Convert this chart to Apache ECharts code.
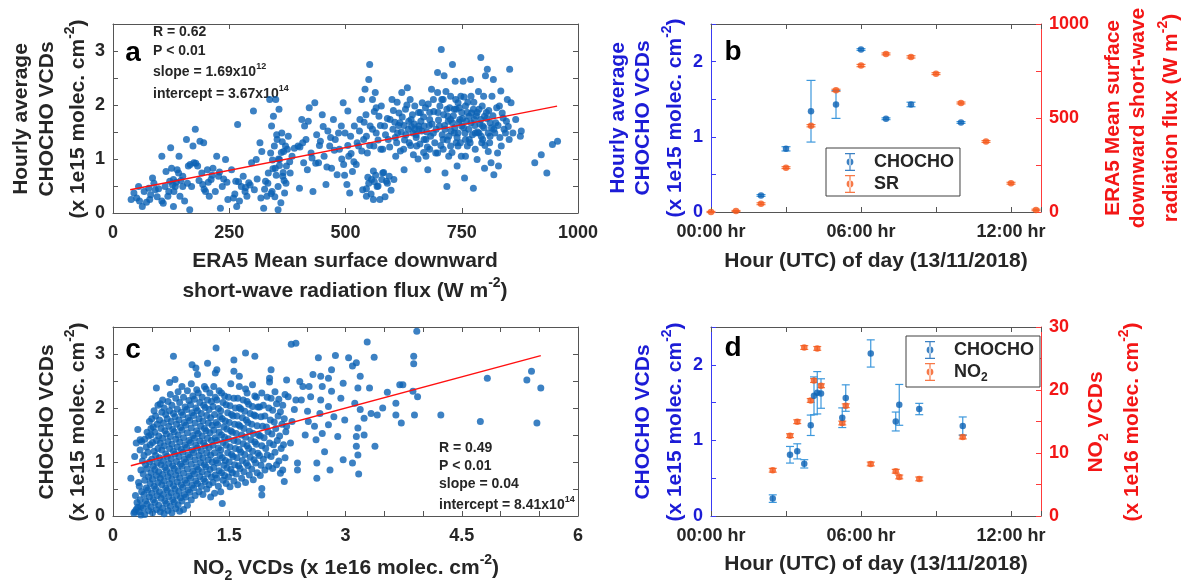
<!DOCTYPE html>
<html><head><meta charset="utf-8">
<script src="https://cdn.jsdelivr.net/npm/echarts@6.0.0/dist/echarts.min.js"></script>
<style>html,body{margin:0;padding:0;background:#fff}#c{width:1181px;height:585px}</style>
</head><body><div id="c"></div>
<script>
// ---------------- DATA ----------------
// Panel a: [shortwave flux W m-2, CHOCHO VCD x1e15]
const scatterA = [
[39,0.25],[45,0.37],[55,0.49],[51,0.28],[63,0.12],[57,0.22],[77,0.46],[81,0.34],[85,0.65],[79,0.25],[91,0.43],[105,1.05],[105,0.22],[112,0.49],[118,0.31],[124,1.21],[126,0.83],[130,0.62],[130,0.12],[134,0.49],[138,0.80],[131,0.40],[142,1.05],[144,0.31],[150,0.68],[154,0.22],[158,1.36],[162,0.87],[165,0.06],[169,0.49],[172,1.24],[177,1.55],[174,0.93],[182,0.87],[187,1.33],[191,0.74],[193,0.53],[195,1.30],[199,0.40],[203,0.80],[207,0.31],[211,0.62],[215,0.83],[223,1.05],[227,0.68],[231,0.09],[235,0.49],[242,0.99],[247,0.25],
[122,0.59],[136,0.57],[141,0.74],[114,0.77],[150,0.49],[98,0.45],[108,0.18],[120,0.40],[128,0.52],[146,0.60],[160,0.55],[166,0.90],[178,0.92],[185,0.60],[196,0.44],[205,0.57],[213,0.70],[220,0.40],[229,0.76],[238,0.63],[245,0.57],[67,0.40],[72,0.20],[88,0.55],[95,0.30],
[255,0.80],[259,0.28],[264,0.59],[268,1.64],[266,0.12],[272,0.22],[276,0.49],[280,0.68],[284,0.40],[288,0.31],[292,0.56],[298,0.93],[302,1.89],[304,0.43],[308,0.99],[316,1.30],[320,1.14],[324,0.09],[328,0.59],[331,0.31],[334,0.74],[337,2.10],[339,1.11],[341,1.61],[342,0.40],[345,1.79],[347,1.24],[349,0.83],[350,2.10],[353,1.36],[355,0.49],[355,0.06],[357,1.92],[358,0.99],[361,0.19],[363,1.48],[365,0.68],[367,1.14],[369,0.37],[371,1.24],[373,0.87],[377,1.42],[381,0.74],[385,1.05],[398,1.24],[401,0.46],[406,1.73],[410,0.93],[412,1.61],[415,1.36],[418,0.80],[422,1.95],[426,1.11],[430,0.40],[434,2.04],[438,1.45],[442,0.93],[446,1.33],[450,1.82],[454,1.05],[458,0.53],[462,1.52],[466,1.24],[470,0.83],[474,1.73],[478,1.36],[482,0.71],[487,1.18],[491,1.61],[495,2.04],[496,0.90],[499,1.48],
[262,0.35],[270,0.58],[285,0.47],[295,0.52],[310,0.63],[318,0.28],[326,0.44],[333,0.55],[343,0.98],[351,0.70],[358,0.88],[362,1.12],[368,0.60],[375,1.18],[380,0.95],[390,1.20],[402,1.22],[408,1.30],[420,1.70],[428,1.02],[436,0.92],[444,1.25],[452,1.60],[460,0.85],[468,1.40],[476,1.16],[485,1.48],[492,1.00],[498,0.70],[344,0.82],[352,1.45],[364,1.32],[372,0.55],[348,0.30],[340,0.36],[356,1.00],[366,0.75],
[503,0.53],[505,1.89],[507,1.05],[509,0.37],[511,1.42],[515,0.77],[519,1.61],[523,0.90],[528,1.24],[531,1.73],[535,2.10],[537,0.43],[539,1.36],[542,2.29],[544,1.82],[545,0.31],[547,1.11],[550,2.47],[552,2.75],[553,1.61],[556,0.62],[558,2.10],[560,0.25],[561,1.24],[564,2.23],[566,1.48],[568,0.49],[572,1.79],[574,0.25],[576,1.18],[577,1.98],[580,0.74],[584,1.61],[588,0.59],[592,1.36],[596,1.73],[600,2.10],[604,0.62],[608,1.05],[612,1.48],[617,1.67],[621,2.23],[625,1.18],[626,0.80],[629,1.92],[633,2.32],[637,1.30],[639,2.10],[641,1.73],[645,1.48],[649,1.98],[653,1.24],[657,1.61],[661,1.86],[665,2.04],[669,1.36],[673,1.05],[677,0.80],[681,1.73],[685,2.29],[689,2.10],[694,1.11],[698,2.60],[699,1.86],[702,1.61],[706,3.03],[707,2.10],[710,1.36],[712,2.54],[714,0.74],[718,0.49],[720,1.79],[722,1.05],[726,2.16],[730,2.75],[734,1.48],[736,2.44],[738,1.92],[740,0.87],[742,1.24],[746,1.73],[748,2.16],
[545,0.45],[550,0.55],[555,0.35],[562,0.58],[565,0.70],[570,0.50],[578,0.62],[582,0.75],[590,0.55],[594,0.68],[598,0.42],[560,0.78],[548,0.66],[585,0.30],
[505,1.25],[512,1.10],[518,0.95],[525,1.30],[530,1.52],[535,1.15],[540,1.68],[545,1.42],[552,1.25],[558,1.55],[562,1.88],[566,1.95],[570,1.35],[575,1.62],[580,1.18],[586,1.45],[590,1.75],[595,1.22],[602,1.55],[606,1.68],[610,1.30],[615,1.85],[620,1.50],[626,1.62],[630,1.45],[636,1.70],[642,1.60],[646,1.08],[652,1.45],[658,1.55],[662,1.70],[668,1.12],[675,1.50],[680,1.62],
[753,2.44],[754,1.58],[756,0.65],[758,1.05],[762,1.86],[766,1.36],[769,2.47],[770,2.16],[775,0.46],[777,1.73],[779,1.48],[783,0.99],[787,1.92],[791,2.88],[793,1.30],[795,1.61],[797,2.16],[799,0.83],[801,2.54],[803,1.86],[805,2.66],[807,1.14],[811,1.42],[813,0.93],[815,2.16],[818,2.47],[819,0.71],[823,1.67],[827,1.11],[829,0.87],[831,1.98],[834,2.26],[835,1.24],[839,1.76],[844,1.48],[848,2.10],[852,1.36],[853,2.66],[856,2.04],[860,1.48],[866,1.73],[876,1.42],[878,1.52],[907,0.93],[921,1.08],[933,0.74],[945,1.27],[956,1.33],
[681,1.86],[698,2.23],[710,2.10],[718,1.92],[726,1.73],[734,1.92],[742,2.04],[750,1.86],[758,1.98],[766,1.79],[775,1.92],[783,1.86],[791,1.73],[799,1.79],[807,1.48],[758,1.36],[742,1.48],[726,1.24],[710,1.18],[698,1.11],[681,1.18],[669,1.61],[657,1.86],[649,1.55],[714,1.55],[730,1.67],[750,1.61],[770,1.67],[787,1.48],[795,1.36],[811,1.67],[819,1.55],[762,1.24],[779,1.18],[722,1.42],[738,1.30],[689,1.48],[673,1.36],
[652,1.40],[656,1.00],[660,1.28],[664,1.52],[668,1.78],[672,1.95],[676,1.22],[678,2.02],[683,1.42],[686,1.65],[690,1.88],[692,1.30],[695,1.55],[700,1.72],[703,1.98],[705,1.25],[708,1.45],[711,1.82],[713,1.62],[716,2.25],[719,1.35],[721,1.70],[724,1.95],[727,1.52],[729,1.12],[732,1.80],[735,1.58],[737,2.10],[740,1.40],[744,1.68],[745,1.95],[747,1.30],[749,1.05],[752,1.75],[755,2.15],[757,1.48],[760,1.70],[763,2.05],[765,1.55],[768,1.30],[771,1.85],[773,1.45],[776,2.05],[778,1.62],[781,1.80],[784,1.50],[786,2.25],[789,1.65],[792,1.42],[794,1.98],[798,1.58],[800,1.25],[804,1.75],[808,1.90],[810,1.30],[814,1.58],[817,1.80],[821,1.48],[825,1.95],[828,1.62],[832,1.40],[837,1.85],[841,1.55],[846,1.70],[850,1.60],
[603,1.90],[607,1.40],[611,2.05],[614,1.62],[618,1.15],[622,1.78],[627,1.35],[632,2.00],[635,1.55],[640,1.25],[644,1.82],[648,1.65]
];
const fitLineA = [[37,0.43],[955,1.98]];

// Panel c: [NO2 VCD x1e16, CHOCHO VCD x1e15]
const scatterC = [
[0.23,0.70],[0.28,1.10],[0.32,1.60],[0.35,1.41],[0.28,0.08],[0.27,0.05],
[0.30,0.12],[0.31,0.25],[0.29,0.38],[0.33,0.62],[0.30,1.35],[0.32,0.16],
[0.34,0.08],[0.36,0.18],[0.35,0.30],[0.37,0.45],[0.34,0.55],[0.36,0.85],[0.38,1.02],[0.35,1.22],[0.37,1.38],[0.36,0.02],
[0.41,0.03],[0.39,0.15],[0.42,0.28],[0.40,0.40],[0.43,0.52],[0.41,0.66],[0.39,0.78],[0.42,0.95],[0.40,1.12],[0.43,1.28],[0.41,1.42],[0.44,1.55],
[0.46,0.10],[0.44,0.22],[0.47,0.35],[0.45,0.48],[0.48,0.60],[0.46,0.72],[0.44,0.88],[0.47,1.00],[0.45,1.18],[0.48,1.32],[0.46,1.48],[0.49,1.62],[0.47,1.75],
[0.51,0.06],[0.49,0.17],[0.52,0.30],[0.50,0.42],[0.53,0.55],[0.51,0.68],[0.49,0.80],[0.52,0.92],[0.50,1.05],[0.53,1.20],[0.51,1.36],[0.49,1.50],[0.52,1.65],[0.50,1.80],[0.53,1.95],
[0.56,0.12],[0.54,0.25],[0.57,0.38],[0.55,0.50],[0.58,0.62],[0.56,0.75],[0.54,0.86],[0.57,0.98],[0.55,1.12],[0.58,1.25],[0.56,1.40],[0.54,1.55],[0.57,1.70],[0.55,1.85],[0.58,2.05],[0.56,2.37],
[0.61,0.08],[0.59,0.20],[0.62,0.33],[0.60,0.45],[0.63,0.58],[0.61,0.70],[0.59,0.82],[0.62,0.95],[0.60,1.08],[0.63,1.22],[0.61,1.35],[0.59,1.48],[0.62,1.62],[0.60,1.78],[0.63,1.92],[0.61,2.08],
[0.66,0.04],[0.64,0.15],[0.67,0.28],[0.65,0.40],[0.68,0.52],[0.66,0.65],[0.64,0.77],[0.67,0.90],[0.65,1.02],[0.68,1.15],[0.66,1.30],[0.64,1.44],[0.67,1.58],[0.65,1.72],[0.68,1.88],[0.66,2.00],[0.64,2.15],
[0.71,0.10],[0.69,0.23],[0.72,0.36],[0.70,0.48],[0.73,0.60],[0.71,0.73],[0.69,0.85],[0.72,0.97],[0.70,1.10],[0.73,1.25],[0.71,1.38],[0.69,1.52],[0.72,1.66],[0.70,1.80],[0.73,1.95],[0.71,2.12],[0.73,2.47],
[0.76,0.06],[0.74,0.18],[0.77,0.30],[0.75,0.43],[0.78,0.56],[0.76,0.68],[0.74,0.80],[0.77,0.93],[0.75,1.06],[0.78,1.20],[0.76,1.33],[0.74,1.47],[0.77,1.60],[0.75,1.75],[0.78,1.90],[0.76,2.05],[0.74,2.25],[0.78,2.96],
[0.81,0.14],[0.79,0.26],[0.82,0.38],[0.80,0.50],[0.83,0.63],[0.81,0.76],[0.79,0.88],[0.82,1.01],[0.80,1.15],[0.83,1.28],[0.81,1.42],[0.79,1.56],[0.82,1.70],[0.80,1.84],[0.83,1.98],[0.81,2.18],[0.80,2.53],
[0.86,0.09],[0.84,0.21],[0.87,0.34],[0.85,0.46],[0.88,0.58],[0.86,0.71],[0.84,0.84],[0.87,0.96],[0.85,1.10],[0.88,1.23],[0.86,1.37],[0.84,1.50],[0.87,1.64],[0.85,1.78],[0.88,1.92],[0.86,2.10],[0.84,2.30],
[0.91,0.12],[0.89,0.28],[0.92,0.40],[0.90,0.53],[0.93,0.66],[0.91,0.79],[0.89,0.92],[0.92,1.05],[0.90,1.18],[0.93,1.32],[0.91,1.45],[0.89,1.59],[0.92,1.73],[0.90,1.87],[0.93,2.02],[0.91,2.20],[0.89,2.40],
[0.96,0.20],[0.94,0.35],[0.97,0.48],[0.95,0.61],[0.98,0.74],[0.96,0.87],[0.94,1.00],[0.97,1.13],[0.95,1.27],[0.98,1.40],[0.96,1.54],[0.94,1.68],[0.97,1.82],[0.95,1.97],[0.98,2.14],[0.96,2.32],
[1.01,0.30],[0.99,0.44],[1.02,0.57],[1.00,0.70],[1.03,0.83],[1.01,0.96],[0.99,1.09],[1.02,1.22],[1.00,1.36],[1.03,1.49],[1.01,1.63],[0.99,1.77],[1.02,1.91],[1.00,2.06],[1.03,2.22],[1.01,2.45],[1.02,2.80],
[1.06,0.38],[1.04,0.52],[1.07,0.65],[1.05,0.78],[1.08,0.91],[1.06,1.04],[1.04,1.17],[1.07,1.31],[1.05,1.44],[1.08,1.58],[1.06,1.72],[1.04,1.86],[1.07,2.00],[1.05,2.16],[1.08,2.34],[1.07,2.74],
[1.11,0.45],[1.09,0.60],[1.12,0.73],[1.10,0.86],[1.13,0.99],[1.11,1.12],[1.09,1.26],[1.12,1.39],[1.10,1.53],[1.13,1.66],[1.11,1.80],[1.09,1.95],[1.12,2.10],[1.10,2.28],[1.09,2.62],
[1.16,0.40],[1.14,0.55],[1.17,0.68],[1.15,0.82],[1.18,0.95],[1.16,1.08],[1.14,1.21],[1.17,1.35],[1.15,1.48],[1.18,1.62],[1.16,1.76],[1.14,1.90],[1.17,2.05],[1.15,2.20],[1.18,2.40],
[1.21,0.50],[1.19,0.64],[1.22,0.78],[1.20,0.91],[1.23,1.04],[1.21,1.17],[1.19,1.30],[1.22,1.44],[1.20,1.58],[1.23,1.72],[1.21,1.86],[1.19,2.01],[1.22,2.15],[1.20,2.35],[1.22,2.83],
[1.26,0.35],[1.24,0.58],[1.27,0.72],[1.25,0.86],[1.28,1.00],[1.26,1.13],[1.24,1.27],[1.27,1.40],[1.25,1.54],[1.28,1.68],[1.26,1.82],[1.24,1.97],[1.27,2.12],[1.25,2.28],
[1.31,0.42],[1.29,0.62],[1.32,0.76],[1.30,0.90],[1.33,1.03],[1.31,1.17],[1.29,1.31],[1.32,1.45],[1.30,1.59],[1.33,1.73],[1.31,1.88],[1.29,2.03],[1.32,2.20],[1.30,2.40],[1.32,2.65],[1.33,3.11],
[1.36,0.55],[1.34,0.70],[1.37,0.84],[1.35,0.98],[1.38,1.12],[1.36,1.26],[1.34,1.40],[1.37,1.55],[1.35,1.69],[1.38,1.84],[1.36,1.99],[1.34,2.15],[1.37,2.32],[1.34,2.71],
[1.41,0.23],[1.39,0.45],[1.42,0.66],[1.40,0.80],[1.43,0.94],[1.41,1.08],[1.39,1.22],[1.42,1.36],[1.40,1.50],[1.43,1.65],[1.41,1.80],[1.39,1.95],[1.42,2.10],[1.40,2.28],
[1.46,0.60],[1.44,0.75],[1.47,0.89],[1.45,1.03],[1.48,1.17],[1.46,1.31],[1.44,1.46],[1.47,1.61],[1.45,1.76],[1.48,1.91],[1.46,2.06],[1.44,2.22],
[1.51,0.54],[1.49,0.72],[1.52,0.86],[1.50,1.00],[1.53,1.14],[1.51,1.28],[1.49,1.43],[1.52,1.58],[1.50,1.73],[1.53,1.88],[1.51,2.04],[1.49,2.20],[1.52,2.45],
[1.56,0.65],[1.54,0.80],[1.57,0.95],[1.55,1.10],[1.58,1.25],[1.56,1.40],[1.54,1.55],[1.57,1.70],[1.55,1.85],[1.58,2.00],[1.56,2.18],[1.56,2.68],[1.56,2.89],
[1.61,0.58],[1.59,0.78],[1.62,0.93],[1.60,1.08],[1.63,1.23],[1.61,1.38],[1.59,1.53],[1.62,1.69],[1.60,1.85],[1.63,2.01],[1.61,2.18],[1.63,2.40],
[1.66,0.70],[1.64,0.88],[1.67,1.03],[1.65,1.18],[1.68,1.34],[1.66,1.50],[1.64,1.66],[1.67,1.82],[1.65,1.98],[1.68,2.15],[1.63,2.59],
[1.71,0.62],[1.69,0.82],[1.72,0.98],[1.70,1.14],[1.73,1.30],[1.71,1.46],[1.69,1.62],[1.72,1.78],[1.70,1.94],[1.73,2.12],[1.71,2.35],[1.71,3.02],
[1.76,0.76],[1.74,0.93],[1.77,1.09],[1.75,1.25],[1.78,1.41],[1.76,1.57],[1.74,1.73],[1.77,1.90],[1.75,2.07],[1.73,2.28],
[1.81,0.67],[1.79,0.87],[1.82,1.04],[1.80,1.20],[1.83,1.37],[1.81,1.53],[1.79,1.70],[1.82,1.87],[1.80,2.03],[1.83,2.22],[1.80,2.43],
[1.86,0.80],[1.84,0.98],[1.87,1.16],[1.85,1.33],[1.88,1.50],[1.86,1.67],[1.84,1.85],[1.87,2.02],[1.85,2.20],[1.83,2.96],
[1.92,0.39],[1.92,0.51],[1.90,0.75],[1.91,0.94],[1.89,1.12],[1.92,1.30],[1.90,1.48],[1.93,1.66],[1.91,1.84],[1.89,2.02],[1.92,2.28],
[1.96,0.85],[1.94,1.05],[1.97,1.25],[1.95,1.45],[1.98,1.65],[1.96,1.85],[1.94,2.05],
[2.01,0.92],[1.99,1.13],[2.02,1.35],[2.00,1.56],[2.03,1.78],[2.01,2.00],[1.99,2.20],[2.02,2.48],[2.04,2.71],
[2.06,0.88],[2.04,1.10],[2.07,1.32],[2.05,1.52],[2.08,1.74],[2.06,1.96],[2.04,2.18],[2.02,2.55],
[2.11,0.95],[2.09,1.18],[2.12,1.40],[2.10,1.62],[2.13,1.85],[2.11,2.08],[2.09,2.30],
[2.16,0.79],[2.14,1.02],[2.17,1.25],[2.15,1.48],[2.18,1.70],[2.16,1.93],[2.14,2.16],
[2.21,0.64],[2.19,0.85],[2.22,1.08],[2.20,1.32],[2.23,1.56],[2.21,1.80],[2.19,2.05],[2.22,2.25],
[2.24,2.52],[2.24,1.66],[2.26,2.21],[2.29,1.35],[2.30,3.18],[2.31,1.75],[2.34,1.97],[2.36,3.20],[2.36,2.15],[2.38,0.98],[2.38,0.85],[2.41,2.49],[2.43,2.15],[2.45,2.40],[2.48,1.50],[2.51,1.94],[2.52,1.75],[2.53,2.40],[2.55,2.21],[2.58,2.62],[2.60,1.66],[2.62,1.41],[2.63,0.98],[2.63,0.70],[2.65,2.93],[2.67,1.90],[2.68,2.15],[2.68,2.59],[2.70,2.40],[2.70,1.53],[2.73,1.19],[2.78,2.55],[2.78,2.03],[2.78,1.69],[2.80,0.85],[2.82,2.71],[2.82,2.31],[2.85,1.84],[2.87,2.97],[2.90,1.47],[2.94,2.18],[2.97,2.46],[2.97,1.04],[2.99,1.78],
[3.04,2.93],[3.09,2.78],[3.09,0.98],[3.12,2.09],[3.14,2.84],[3.14,1.47],[3.14,1.29],[3.16,2.37],[3.16,1.63],[3.16,1.13],[3.17,0.78],[3.19,2.59],[3.19,1.97],[3.24,1.81],[3.24,1.50],[3.28,3.22],[3.31,2.37],[3.33,1.90],[3.37,2.94],[3.38,1.29],[3.41,1.87],[3.48,2.00],[3.54,2.29],[3.65,2.09],[3.65,1.87],[3.70,2.43],[3.72,1.72],[3.74,2.43],[3.87,2.31],[3.88,2.96],[3.88,2.82],[3.89,1.87],[3.92,3.42],[3.93,2.21],
[4.23,1.87],[4.74,1.75],[4.83,2.55],[5.34,2.52],[5.40,2.68],[5.47,1.72],[5.52,2.37]
];
const fitLineC = [[0.23,0.93],[5.52,2.97]];

// Panel b: hourly (hours UTC)
const srHours = [0,1,2,3,4,5,6,7,8,9,10,11,12,13];
const srValues = [0,5,44,236,459,647,779,841,825,736,580,375,153,11];
const srErr = [3,3,5,5,6,6,6,5,6,5,5,5,5,4];
const chochoHoursB = [2,3,4,5,6,7,8,10];
const chochoB = [0.22,0.84,1.34,1.43,2.16,1.24,1.43,1.19];
const chochoErrB = [0.012,0.028,0.41,0.185,0.012,0.012,0.03,0.012];

// Panel d: individual measurements (hours UTC)
const hoursD = [2.47,3.16,3.45,3.73,3.99,4.12,4.25,4.40,5.25,5.39,6.39,7.39,7.53,8.33,10.07];
const chochoD = [0.23,0.81,0.855,0.69,1.20,1.59,1.63,1.62,1.30,1.56,2.15,1.25,1.47,1.415,1.19];
const chochoErrD = [0.05,0.11,0.10,0.055,0.135,0.25,0.28,0.195,0.13,0.175,0.18,0.125,0.27,0.075,0.12];
const no2D = [7.26,12.75,14.97,26.74,18.34,21.5,26.6,20.67,14.76,17.5,8.26,7.1,6.2,5.89,12.54];
const no2ErrD = [0.3,0.3,0.3,0.3,0.3,0.3,0.3,0.3,0.3,0.3,0.3,0.3,0.3,0.3,0.3];

// tick labels
const hourTickLabels = {0:'00:00 hr', 6:'06:00 hr', 12:'12:00 hr'};
const noxTickLabels = [0, 1.5, 3, 4.5, 6];

// ---------------- STYLE ----------------
const FONT = "'Liberation Sans', Arial, Helvetica, sans-serif";
const INK = '#262626', BOX = '#555555';
const BLUE_AX = '#3a3af5', RED_AX = '#ff3a3a', BLUE_TXT = '#1c1cd6', RED_TXT = '#f31616';
const DOT = '#0b62b4', DOT_ERR = '#3d98dc', OR = '#f5571a', OR_ERR = '#f47a45';

const fmtInt = v => Math.abs(v - Math.round(v)) < 1e-9 ? String(Math.round(v)) : '';
const fmtHr = v => hourTickLabels[v] !== undefined ? hourTickLabels[v] : '';
const fmtNox = v => noxTickLabels.some(t => Math.abs(t - v) < 1e-9) ? String(v) : '';

function X(grid, pos, min, max, interval, fmt) {
  return {
    type: 'value', gridIndex: grid, position: pos, min, max, interval,
    splitLine: {show: false},
    axisLine: {show: true, onZero: false, lineStyle: {color: BOX, width: 1}},
    axisTick: {show: true, inside: true, length: 5, lineStyle: {color: BOX}},
    axisLabel: fmt ? {show: true, formatter: fmt, color: INK, fontSize: 18, fontWeight: 'bold', fontFamily: FONT, margin: 11, showMaxLabel: true, showMinLabel: true, hideOverlap: false} : {show: false}
  };
}
function Y(grid, pos, min, max, interval, fmt, txt, ax) {
  return {
    type: 'value', gridIndex: grid, position: pos, min, max, interval,
    splitLine: {show: false},
    axisLine: {show: true, onZero: false, lineStyle: {color: ax, width: 1}},
    axisTick: {show: true, inside: true, length: 5, lineStyle: {color: ax}},
    axisLabel: fmt ? {show: true, formatter: fmt, color: txt, fontSize: 18, fontWeight: 'bold', fontFamily: FONT, margin: 8} : {show: false}
  };
}

function errRender(capHalf) {
  return function (params, api) {
    const x = api.value(0), lo = api.value(1), hi = api.value(2);
    const p1 = api.coord([x, hi]), p2 = api.coord([x, lo]);
    const st = {stroke: api.visual('color'), lineWidth: 1.2, fill: null};
    return {type: 'group', children: [
      {type: 'line', shape: {x1: p1[0], y1: p1[1], x2: p2[0], y2: p2[1]}, style: st},
      {type: 'line', shape: {x1: p1[0] - capHalf, y1: p1[1], x2: p1[0] + capHalf, y2: p1[1]}, style: st},
      {type: 'line', shape: {x1: p2[0] - capHalf, y1: p2[1], x2: p2[0] + capHalf, y2: p2[1]}, style: st}
    ]};
  };
}
const errData = (xs, vs, es) => xs.map((x, i) => [x, vs[i] - es[i], vs[i] + es[i]]);
const ptData = (xs, vs) => xs.map((x, i) => [x, vs[i]]);

// text helpers
function richStyles(color, size) {
  return {
    t: {fill: color, fontSize: size, fontWeight: 'bold', fontFamily: FONT, lineHeight: Math.round(size * 1.45)},
    s: {fill: color, fontSize: Math.round(size * 0.66), fontWeight: 'bold', fontFamily: FONT, lineHeight: Math.round(size * 0.66), verticalAlign: 'top'},
    b: {fill: color, fontSize: Math.round(size * 0.66), fontWeight: 'bold', fontFamily: FONT, lineHeight: Math.round(size * 0.66), verticalAlign: 'bottom'}
  };
}
function T(x, y, text, color, size, opts) {
  opts = opts || {};
  return {
    type: 'text', x, y, rotation: opts.rot ? Math.PI / 2 : 0, silent: true,
    style: {text, rich: richStyles(color, size), align: opts.align || 'center', verticalAlign: 'middle'}
  };
}
const legendIcon = 'path://M0,0h10v1.3h-10zM4.4,0h1.2v18h-1.2zM0,16.7h10v1.3h-10zM1.6,9a3.4,3.4 0 1,0 6.8,0a3.4,3.4 0 1,0 -6.8,0zM23.9,9h0.1v0.1h-0.1z';

const texts = [
  // panel letters
  T(133, 53, '{t|a}', '#000', 28), T(733, 52, '{t|b}', '#000', 28),
  T(133, 350, '{t|c}', '#000', 28), T(733, 348, '{t|d}', '#000', 28),
  // panel a stats
  T(153, 32, '{t|R = 0.62}', INK, 14, {align: 'left'}),
  T(153, 51, '{t|P < 0.01}', INK, 14, {align: 'left'}),
  T(153, 72, '{t|slope = 1.69x10}{s|12}', INK, 14, {align: 'left'}),
  T(153, 94, '{t|intercept = 3.67x10}{s|14}', INK, 14, {align: 'left'}),
  // panel c stats
  T(439, 448, '{t|R = 0.49}', INK, 14, {align: 'left'}),
  T(439, 466, '{t|P < 0.01}', INK, 14, {align: 'left'}),
  T(439, 484, '{t|slope = 0.04}', INK, 14, {align: 'left'}),
  T(439, 505, '{t|intercept = 8.41x10}{s|14}', INK, 14, {align: 'left'}),
  // panel a titles
  T(21, 119, '{t|Hourly average}', INK, 21, {rot: 1}),
  T(47, 119, '{t|CHOCHO VCDs}', INK, 21, {rot: 1}),
  T(78, 119, '{t|(x 1e15 molec. cm}{s|-2}{t|)}', INK, 21, {rot: 1}),
  T(345, 261, '{t|ERA5 Mean surface downward}', INK, 21),
  T(345, 291, '{t|short-wave radiation flux (W m}{s|-2}{t|)}', INK, 21),
  // panel b titles
  T(618, 118, '{t|Hourly average}', BLUE_TXT, 21, {rot: 1}),
  T(643, 118, '{t|CHOCHO VCDs}', BLUE_TXT, 21, {rot: 1}),
  T(675, 118, '{t|(x 1e15 molec. cm}{s|-2}{t|)}', BLUE_TXT, 21, {rot: 1}),
  T(1113, 118, '{t|ERA5 Mean surface}', RED_TXT, 21, {rot: 1}),
  T(1138, 118, '{t|downward short-wave}', RED_TXT, 21, {rot: 1}),
  T(1171, 118, '{t|radiation flux (W m}{s|-2}{t|)}', RED_TXT, 21, {rot: 1}),
  T(876, 261, '{t|Hour (UTC) of day (13/11/2018)}', INK, 21),
  // panel c titles
  T(47, 422, '{t|CHOCHO VCDs}', INK, 21, {rot: 1}),
  T(78, 422, '{t|(x 1e15 molec. cm}{s|-2}{t|)}', INK, 21, {rot: 1}),
  T(346, 568, '{t|NO}{b|2}{t| VCDs (x 1e16 molec. cm}{s|-2}{t|)}', INK, 21),
  // panel d titles
  T(643, 422, '{t|CHOCHO VCDs}', BLUE_TXT, 21, {rot: 1}),
  T(675, 422, '{t|(x 1e15 molec. cm}{s|-2}{t|)}', BLUE_TXT, 21, {rot: 1}),
  T(1096, 422, '{t|NO}{b|2}{t| VCDs}', RED_TXT, 21, {rot: 1}),
  T(1132, 422, '{t|(x 1e16 molec. cm}{s|-2}{t|)}', RED_TXT, 21, {rot: 1}),
  T(876, 564, '{t|Hour (UTC) of day (13/11/2018)}', INK, 21)
];

const legendBase = {
  orient: 'vertical', selectedMode: false, backgroundColor: '#fff',
  borderColor: '#404040', borderWidth: 1, borderRadius: 0,
  padding: [5, 6, 3, 19], itemGap: 4, itemWidth: 24, itemHeight: 18,
  itemStyle: {borderWidth: 0},
  textStyle: {color: INK, fontSize: 18, fontWeight: 'bold', fontFamily: FONT,
    rich: {t: {fontSize: 18, fontWeight: 'bold', fontFamily: FONT, color: INK, lineHeight: 24},
           b: {fontSize: 12, fontWeight: 'bold', fontFamily: FONT, color: INK, lineHeight: 12, verticalAlign: 'bottom'}}}
};

const option = {
  animation: false,
  backgroundColor: '#fff',
  grid: [
    {left: 113, top: 24, width: 465, height: 189},
    {left: 711, top: 24, width: 330, height: 188},
    {left: 113, top: 327, width: 465, height: 189},
    {left: 711, top: 327, width: 330, height: 189}
  ],
  xAxis: [
    X(0, 'bottom', 0, 1000, 250, v => String(v)), X(0, 'top', 0, 1000, 250, null),
    X(1, 'bottom', 0, 13.2, 3, fmtHr), X(1, 'top', 0, 13.2, 3, null),
    X(2, 'bottom', 0, 6, 0.5, fmtNox), X(2, 'top', 0, 6, 0.5, null),
    X(3, 'bottom', 0, 13.2, 3, fmtHr), X(3, 'top', 0, 13.2, 3, null)
  ],
  yAxis: [
    Y(0, 'left', 0, 3.5, 0.5, fmtInt, INK, BOX), Y(0, 'right', 0, 3.5, 0.5, null, INK, BOX),
    Y(1, 'left', 0, 2.5, 0.5, fmtInt, BLUE_TXT, BLUE_AX), Y(1, 'right', 0, 1000, 250, v => v % 500 === 0 ? String(v) : '', RED_TXT, RED_AX),
    Y(2, 'left', 0, 3.5, 0.5, fmtInt, INK, BOX), Y(2, 'right', 0, 3.5, 0.5, null, INK, BOX),
    Y(3, 'left', 0, 2.5, 0.5, fmtInt, BLUE_TXT, BLUE_AX), Y(3, 'right', 0, 30, 5, v => v % 10 === 0 ? String(v) : '', RED_TXT, RED_AX)
  ],
  legend: [
    Object.assign({}, legendBase, {left: 826, top: 148, data: [{name: 'CHOCHO', icon: legendIcon}, {name: 'SR', icon: legendIcon}], formatter: n => '{t|' + n + '}'}),
    Object.assign({}, legendBase, {left: 906, top: 336, data: [{name: 'CHOCHO', icon: legendIcon}, {name: 'NO2', icon: legendIcon}], formatter: n => n === 'NO2' ? '{t|NO}{b|2}' : '{t|' + n + '}'})
  ],
  series: [
    {type: 'scatter', name: 'CHOCHO vs SR', xAxisIndex: 0, yAxisIndex: 0, data: scatterA, symbolSize: 7, itemStyle: {color: DOT}},
    {type: 'line', name: 'fit a', xAxisIndex: 0, yAxisIndex: 0, data: fitLineA, symbol: 'none', lineStyle: {color: '#ff1010', width: 1.4}, z: 5},

    {type: 'custom', name: 'SR err', xAxisIndex: 2, yAxisIndex: 3, data: errData(srHours, srValues, srErr), encode: {x: 0, y: [1, 2]}, renderItem: errRender(4.5), itemStyle: {color: OR_ERR}, z: 2},
    {type: 'scatter', name: 'SR', xAxisIndex: 2, yAxisIndex: 3, data: ptData(srHours, srValues), symbolSize: 6.5, itemStyle: {color: OR}, z: 3},
    {type: 'custom', name: 'CHOCHO err b', xAxisIndex: 2, yAxisIndex: 2, data: errData(chochoHoursB, chochoB, chochoErrB), encode: {x: 0, y: [1, 2]}, renderItem: errRender(4.5), itemStyle: {color: DOT_ERR}, z: 2},
    {type: 'scatter', name: 'CHOCHO', xAxisIndex: 2, yAxisIndex: 2, data: ptData(chochoHoursB, chochoB), symbolSize: 6.5, itemStyle: {color: DOT}, z: 3},

    {type: 'scatter', name: 'CHOCHO vs NO2', xAxisIndex: 4, yAxisIndex: 4, data: scatterC, symbolSize: 7, itemStyle: {color: DOT}},
    {type: 'line', name: 'fit c', xAxisIndex: 4, yAxisIndex: 4, data: fitLineC, symbol: 'none', lineStyle: {color: '#ff1010', width: 1.4}, z: 5},

    {type: 'custom', name: 'NO2 err', xAxisIndex: 6, yAxisIndex: 7, data: errData(hoursD, no2D, no2ErrD), encode: {x: 0, y: [1, 2]}, renderItem: errRender(4), itemStyle: {color: OR_ERR}, z: 2},
    {type: 'scatter', name: 'NO2', xAxisIndex: 6, yAxisIndex: 7, data: ptData(hoursD, no2D), symbolSize: 6.5, itemStyle: {color: OR}, z: 3},
    {type: 'custom', name: 'CHOCHO err d', xAxisIndex: 6, yAxisIndex: 6, data: errData(hoursD, chochoD, chochoErrD), encode: {x: 0, y: [1, 2]}, renderItem: errRender(4), itemStyle: {color: DOT_ERR}, z: 2},
    {type: 'scatter', name: 'CHOCHO', xAxisIndex: 6, yAxisIndex: 6, data: ptData(hoursD, chochoD), symbolSize: 6.5, itemStyle: {color: DOT}, z: 3}
  ],
  graphic: {elements: texts}
};

const chart = echarts.init(document.getElementById('c'), null, {renderer: 'canvas'});
chart.setOption(option);
</script></body></html>
